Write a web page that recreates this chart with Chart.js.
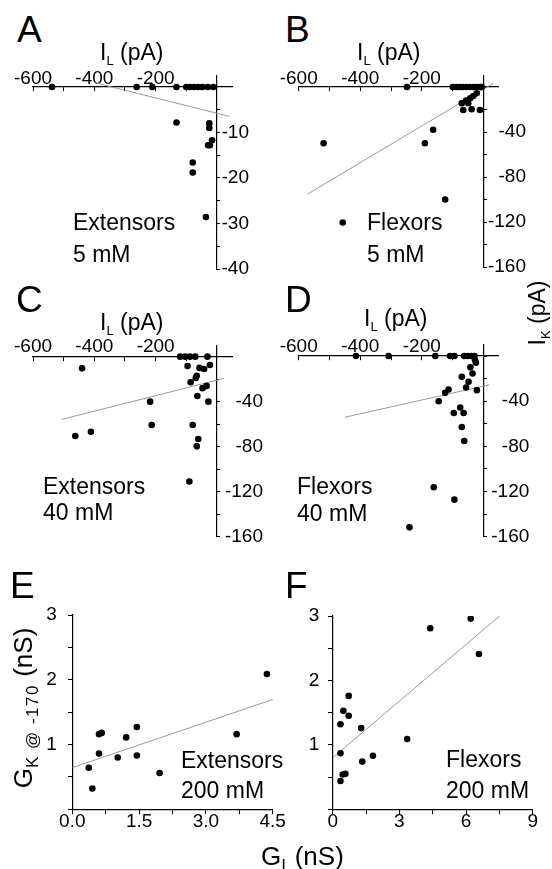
<!DOCTYPE html>
<html><head><meta charset="utf-8">
<script src="https://cdn.jsdelivr.net/npm/chart.js@4.4.1/dist/chart.umd.min.js"></script>
<style>
html,body{margin:0;padding:0;background:#fff;}
#page{position:relative;width:552px;height:869px;overflow:hidden;font-family:'Liberation Sans',Arial,sans-serif;color:#000;}
canvas{position:absolute;}
.t{position:absolute;line-height:1;white-space:nowrap;}
.letter{font-size:37px;}
.ttl{font-size:23px;}
.ttl sub{font-size:13px;vertical-align:baseline;position:relative;top:5px;}
.big{font-size:26px;}
.big sub{font-size:17px;vertical-align:baseline;position:relative;top:6px;letter-spacing:1.5px;}
.note{font-size:23px;}
</style></head>
<body><div id="page">
<canvas id="cA" width="276" height="230" style="left:0;top:55px"></canvas>
<canvas id="cB" width="276" height="230" style="left:276px;top:55px"></canvas>
<canvas id="cC" width="276" height="230" style="left:0;top:325px"></canvas>
<canvas id="cD" width="276" height="230" style="left:276px;top:325px"></canvas>
<canvas id="cE" width="300" height="240" style="left:0;top:600px"></canvas>
<canvas id="cF" width="276" height="240" style="left:276px;top:600px"></canvas>

<div class="t letter" style="left:17px;top:10.7px">A</div>
<div class="t letter" style="left:285px;top:10.7px">B</div>
<div class="t letter" style="left:16px;top:280.7px">C</div>
<div class="t letter" style="left:285px;top:280.7px">D</div>
<div class="t letter" style="left:10px;top:566.7px">E</div>
<div class="t letter" style="left:285px;top:566.7px">F</div>

<div class="t ttl" style="left:100px;top:40.5px">I<sub>L</sub> (pA)</div>
<div class="t ttl" style="left:357px;top:40.5px">I<sub>L</sub> (pA)</div>
<div class="t ttl" style="left:100px;top:310.5px">I<sub>L</sub> (pA)</div>
<div class="t ttl" style="left:364px;top:307.2px">I<sub>L</sub> (pA)</div>
<div class="t ttl" style="left:537px;top:313px;transform:translate(-50%,-50%) rotate(-90deg)">I<sub>K</sub> (pA)</div>
<div class="t big" style="left:23px;top:708px;transform:translate(-50%,-50%) rotate(-90deg)">G<sub>K @ -170</sub> (nS)</div>
<div class="t big" style="left:261px;top:843px">G<sub>I</sub> (nS)</div>

<div class="t note" style="left:73px;top:210.5px">Extensors</div>
<div class="t note" style="left:73px;top:242.5px">5 mM</div>
<div class="t note" style="left:367px;top:210.5px">Flexors</div>
<div class="t note" style="left:367px;top:242.5px">5 mM</div>
<div class="t note" style="left:43px;top:475px">Extensors</div>
<div class="t note" style="left:43px;top:500.5px">40 mM</div>
<div class="t note" style="left:297px;top:475px">Flexors</div>
<div class="t note" style="left:297px;top:501.5px">40 mM</div>
<div class="t note" style="left:181px;top:748.5px">Extensors</div>
<div class="t note" style="left:181px;top:778.5px">200 mM</div>
<div class="t note" style="left:446px;top:748px">Flexors</div>
<div class="t note" style="left:446px;top:778.5px">200 mM</div>
</div>
<script>
// ---- Panel A: Extensors 5 mM ----
const aX = [-538, -262, -211, -132, -100, -88, -75, -62, -48, -30, -12, -132, -25, -25, -16, -29, -23, -79, -79, -36];
const aY = [0, 0, 0, 0, 0, 0, 0, 0, 0, 0, 0, -7.8, -8.0, -9.0, -11.7, -12.8, -12.8, -16.6, -18.8, -28.6];
const aFitX = [-399, 40];
const aFitY = [0.94, -6.45];
// ---- Panel B: Flexors 5 mM ----
const bX = [-248, -99, -88, -77, -66, -55, -44, -33, -22, -11, -5, -519, -190, -163, -124, -457, -70, -56, -43, -32.5, -21.5, -65, -38, -11, -49];
const bY = [0, 0, 0, 0, 0, 0, 0, 0, 0, 0, 0, -50, -50, -38, -100, -120.5, -14.5, -12.1, -10, -8, -5.6, -20.4, -19.8, -20.4, -14.5];
const bFitX = [-571, 32.5];
const bFitY = [-95.2, 3.3];
// ---- Panel C: Extensors 40 mM ----
const cX = [-440, -120, -104, -88, -71, -31, -96, -57, -42, -23, -66, -69, -86, -47, -34, -64, -28, -218, -213, -79, -462, -411, -61, -66, -90];
const cY = [-10.4, 0, 0, 0, 0, 0, -8.3, -10, -11, -7.4, -17, -19, -22.8, -28, -26, -35, -40, -40, -60.7, -60.7, -70.5, -66.7, -73.2, -79.7, -111];
const cFitX = [-505, 23];
const cFitY = [-55.7, -19.3];
// ---- Panel D: Flexors 40 mM ----
const dX = [-414, -308, -156, -108, -94, -62, -51, -40, -29, -27, -24, -42, -35, -70, -48, -56, -21, -113, -124, -145, -75, -64, -96, -70, -62, -161, -94, -240];
const dY = [0, 0, 0, 0, 0, 0, 0, 0, 0, -3.6, -5.9, -10, -15.4, -18.4, -22.8, -27.9, -30.2, -29.6, -32.6, -40, -45.6, -50.4, -50.4, -62.8, -75.3, -116.2, -127.2, -151.7];
const dFitX = [-450, 19.5];
const dFitY = [-54.2, -25.5];
// ---- Panel E: Extensors 200 mM ----
const eX = [0.37, 0.45, 0.60, 0.60, 0.66, 1.02, 1.21, 1.45, 1.45, 1.96, 3.69, 4.37];
const eY = [0.64, 0.32, 0.86, 1.16, 1.18, 0.80, 1.11, 1.27, 0.83, 0.56, 1.16, 2.09];
const eFitX = [0, 4.52];
const eFitY = [0.643, 1.70];
// ---- Panel F: Flexors 200 mM ----
const fX = [0.35, 0.35, 0.35, 0.45, 0.57, 0.48, 0.72, 0.72, 1.28, 1.33, 1.81, 3.35, 4.39, 6.21, 6.58];
const fY = [1.32, 0.87, 0.44, 0.54, 0.55, 1.53, 1.45, 1.76, 1.26, 0.74, 0.83, 1.09, 2.81, 2.96, 2.41];
const fFitX = [0, 7.51];
const fFitY = [0.80, 3.0];

// ---- ticks ----
const ilTicks = [-600, -500, -400, -300, -200, -100, 0];
const ilLabels = ['-600', '', '-400', '', '-200', '', ''];
const ikTicksA = [-40, -35, -30, -25, -20, -15, -10, -5, 0];
const ikLabelsA = ['-40', '', '-30', '', '-20', '', '-10', '', ''];
const ikTicks = [-160, -140, -120, -100, -80, -60, -40, -20, 0];
const ikLabels = ['-160', '', '-120', '', '-80', '', '-40', '', ''];
const gTicksE = [0, 0.75, 1.5, 2.25, 3.0, 3.75, 4.5];
const gLabelsE = ['0.0', '', '1.5', '', '3.0', '', '4.5'];
const gTicksF = [0, 1.5, 3, 4.5, 6, 7.5, 9];
const gLabelsF = ['0', '', '3', '', '6', '', '9'];
const gkTicks = [0, 0.5, 1, 1.5, 2, 2.5, 3];
const gkLabels = ['', '', '1', '', '2', '', '3'];

const FONT = {family: "'Liberation Sans', Arial, sans-serif", size: 19};
const BLANK = ticks => ticks.map(() => '');

function pts(xs, ys) { return xs.map((x, i) => ({x: x, y: ys[i]})); }

// axis line + tick marks (optionally labels)
function axis(min, max, pos, tickVals, tickLabels, pad, tl) {
  return {
    type: 'linear', min: min, max: max, position: pos,
    afterBuildTicks: s => { s.ticks = tickVals.map(v => ({value: v})); },
    ticks: {callback: (v, i) => tickLabels[i], font: FONT, color: '#000', padding: pad, autoSkip: false, maxRotation: 0},
    grid: {display: true, drawOnChartArea: false, drawTicks: true, tickLength: tl, color: '#000', tickWidth: 1},
    border: {display: true, color: '#000', width: 1.2}
  };
}
// y tick labels only (mirrored, right-aligned), offset from the chart area's right edge
function labelAxis(min, max, tickVals, tickLabels, pad) {
  return {
    type: 'linear', axis: 'y', position: 'right', min: min, max: max,
    afterBuildTicks: s => { s.ticks = tickVals.map(v => ({value: v})); },
    afterFit: s => { s.width = 0; s.paddingTop = 0; s.paddingBottom = 0; },
    ticks: {callback: (v, i) => tickLabels[i], font: FONT, color: '#000', padding: pad, mirror: true, autoSkip: false},
    grid: {display: false, drawTicks: false},
    border: {display: false}
  };
}

function panel(id, xs, ys, fx, fy, scales, padding) {
  new Chart(document.getElementById(id), {
    type: 'scatter',
    data: {datasets: [
      {type: 'line', data: pts(fx, fy), xAxisID: 'x', yAxisID: 'y', borderColor: '#9a9a9a', borderWidth: 1, pointRadius: 0, fill: false, order: 2},
      {type: 'scatter', data: pts(xs, ys), xAxisID: 'x', yAxisID: 'y', backgroundColor: '#000', borderColor: '#000', pointRadius: 3.3, borderWidth: 0, order: 1}
    ]},
    options: {
      responsive: false, animation: false, events: [],
      layout: {padding: padding},
      plugins: {legend: {display: false}, tooltip: {enabled: false}},
      scales: scales
    }
  });
}

panel('cA', aX, aY, aFitX, aFitY, {
  x: axis(-600, 50, {y: 0}, ilTicks, ilLabels, -24, 4),
  y: axis(-40, 2.5, {x: 0}, ikTicksA, BLANK(ikTicksA), 0, -4),
  yl: labelAxis(-40, 2.5, ikTicksA, ikLabelsA, 16.7)
}, {left: 33, right: 43.7, top: 20.6, bottom: 16});
panel('cB', bX, bY, bFitX, bFitY, {
  x: axis(-600, 50, {y: 0}, ilTicks, ilLabels, -24, 4),
  y: axis(-160, 10, {x: 0}, ikTicks, BLANK(ikTicks), 0, -4),
  yl: labelAxis(-160, 10, ikTicks, ikLabels, 27.3)
}, {left: 22.7, right: 53.3, top: 20.75, bottom: 18});
panel('cC', cX, cY, cFitX, cFitY, {
  x: axis(-600, 50, {y: 0}, ilTicks, ilLabels, -25, 4),
  y: axis(-160, 10, {x: 0}, ikTicks, BLANK(ikTicks), 0, -4),
  yl: labelAxis(-160, 10, ikTicks, ikLabels, 30.7)
}, {left: 33, right: 43.7, top: 20.4, bottom: 18.3});
panel('cD', dX, dY, dFitX, dFitY, {
  x: axis(-600, 50, {y: 0}, ilTicks, ilLabels, -25, 4),
  y: axis(-160, 10, {x: 0}, ikTicks, BLANK(ikTicks), 0, -4),
  yl: labelAxis(-160, 10, ikTicks, ikLabels, 30.6)
}, {left: 22.7, right: 53.3, top: 19.75, bottom: 18.3});
panel('cE', eX, eY, eFitX, eFitY, {
  x: axis(0, 4.5, {y: 0}, gTicksE, gLabelsE, -3, 4),
  y: axis(0, 3, {x: 0}, gkTicks, BLANK(gkTicks), 0, 4),
  yl: labelAxis(0, 3, gkTicks, gkLabels, -216)
}, {left: 72.3, right: 27.3, top: 15, bottom: 30.7});
panel('cF', fX, fY, fFitX, fFitY, {
  x: axis(0, 9, {y: 0}, gTicksF, gLabelsF, -3, 4),
  y: axis(0, 3, {x: 0}, gkTicks, BLANK(gkTicks), 0, 4),
  yl: labelAxis(0, 3, gkTicks, gkLabels, -213.4)
}, {left: 56.7, right: 19.3, top: 16, bottom: 30.7});
</script>
</body></html>
